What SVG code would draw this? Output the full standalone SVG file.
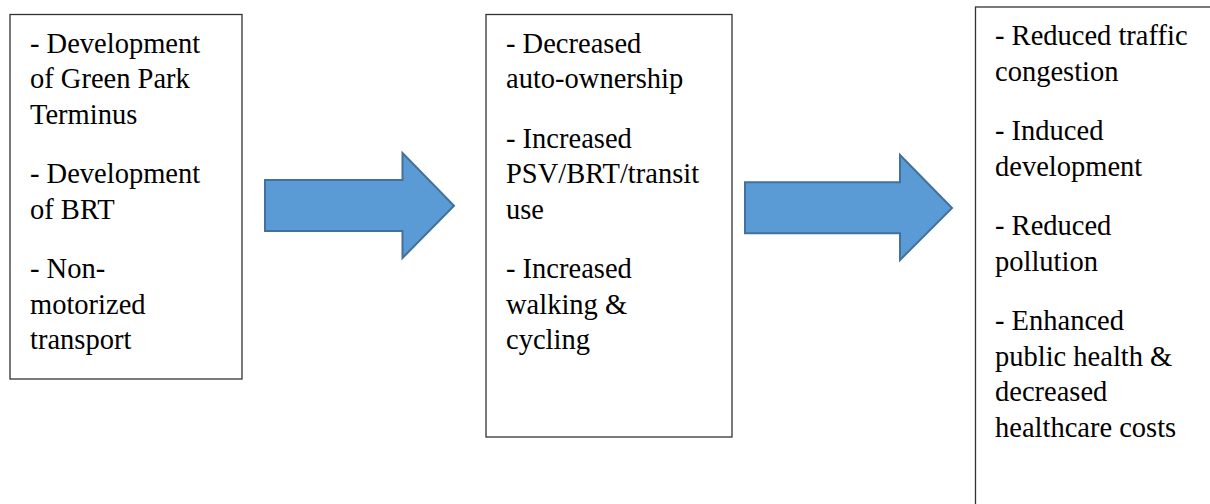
<svg xmlns="http://www.w3.org/2000/svg" width="1210" height="504" viewBox="0 0 1210 504">
<style>
.box{fill:#fff;stroke:#333;stroke-width:1.3}
.arrow{fill:#5B9BD5;stroke:#41719C;stroke-width:2;stroke-linejoin:miter}
text{font-family:"Liberation Serif", "Times New Roman", "Noto Serif", "DejaVu Serif", serif;font-size:28.5px;fill:#000}
</style>
<rect width="1210" height="504" fill="#fff"/>
<g id="node-inputs">
<rect class="box" x="10" y="14.5" width="232" height="364.5"/>
<text x="30" y="52.5">- Development</text>
<text x="30" y="88">of Green Park</text>
<text x="30" y="123.5">Terminus</text>
<text x="30" y="183">- Development</text>
<text x="30" y="218.5">of BRT</text>
<text x="30" y="278">- Non-</text>
<text x="30" y="313.5">motorized</text>
<text x="30" y="349">transport</text>
</g>
<g id="node-outcomes">
<rect class="box" x="486" y="14.5" width="246" height="422.5"/>
<text x="506" y="52.5">- Decreased</text>
<text x="506" y="88">auto-ownership</text>
<text x="506" y="147.5">- Increased</text>
<text x="506" y="183">PSV/BRT/transit</text>
<text x="506" y="218.5">use</text>
<text x="506" y="278">- Increased</text>
<text x="506" y="313.5">walking &amp;</text>
<text x="506" y="349">cycling</text>
</g>
<g id="node-impacts">
<rect class="box" x="975.5" y="7" width="250" height="510"/>
<text x="995" y="45">- Reduced traffic</text>
<text x="995" y="80.5">congestion</text>
<text x="995" y="140">- Induced</text>
<text x="995" y="175.5">development</text>
<text x="995" y="235">- Reduced</text>
<text x="995" y="270.5">pollution</text>
<text x="995" y="330">- Enhanced</text>
<text x="995" y="365.5">public health &amp;</text>
<text x="995" y="401">decreased</text>
<text x="995" y="436.5">healthcare costs</text>
</g>
<g id="connectors">
<path class="arrow" d="M265,180 L402.5,180 L402.5,153 L454,205.7 L402.5,258 L402.5,231 L265,231 Z"/>
<path class="arrow" d="M745,182.3 L900,182.3 L900,155 L952,208 L900,260 L900,233.3 L745,233.3 Z"/>
</g>
</svg>
